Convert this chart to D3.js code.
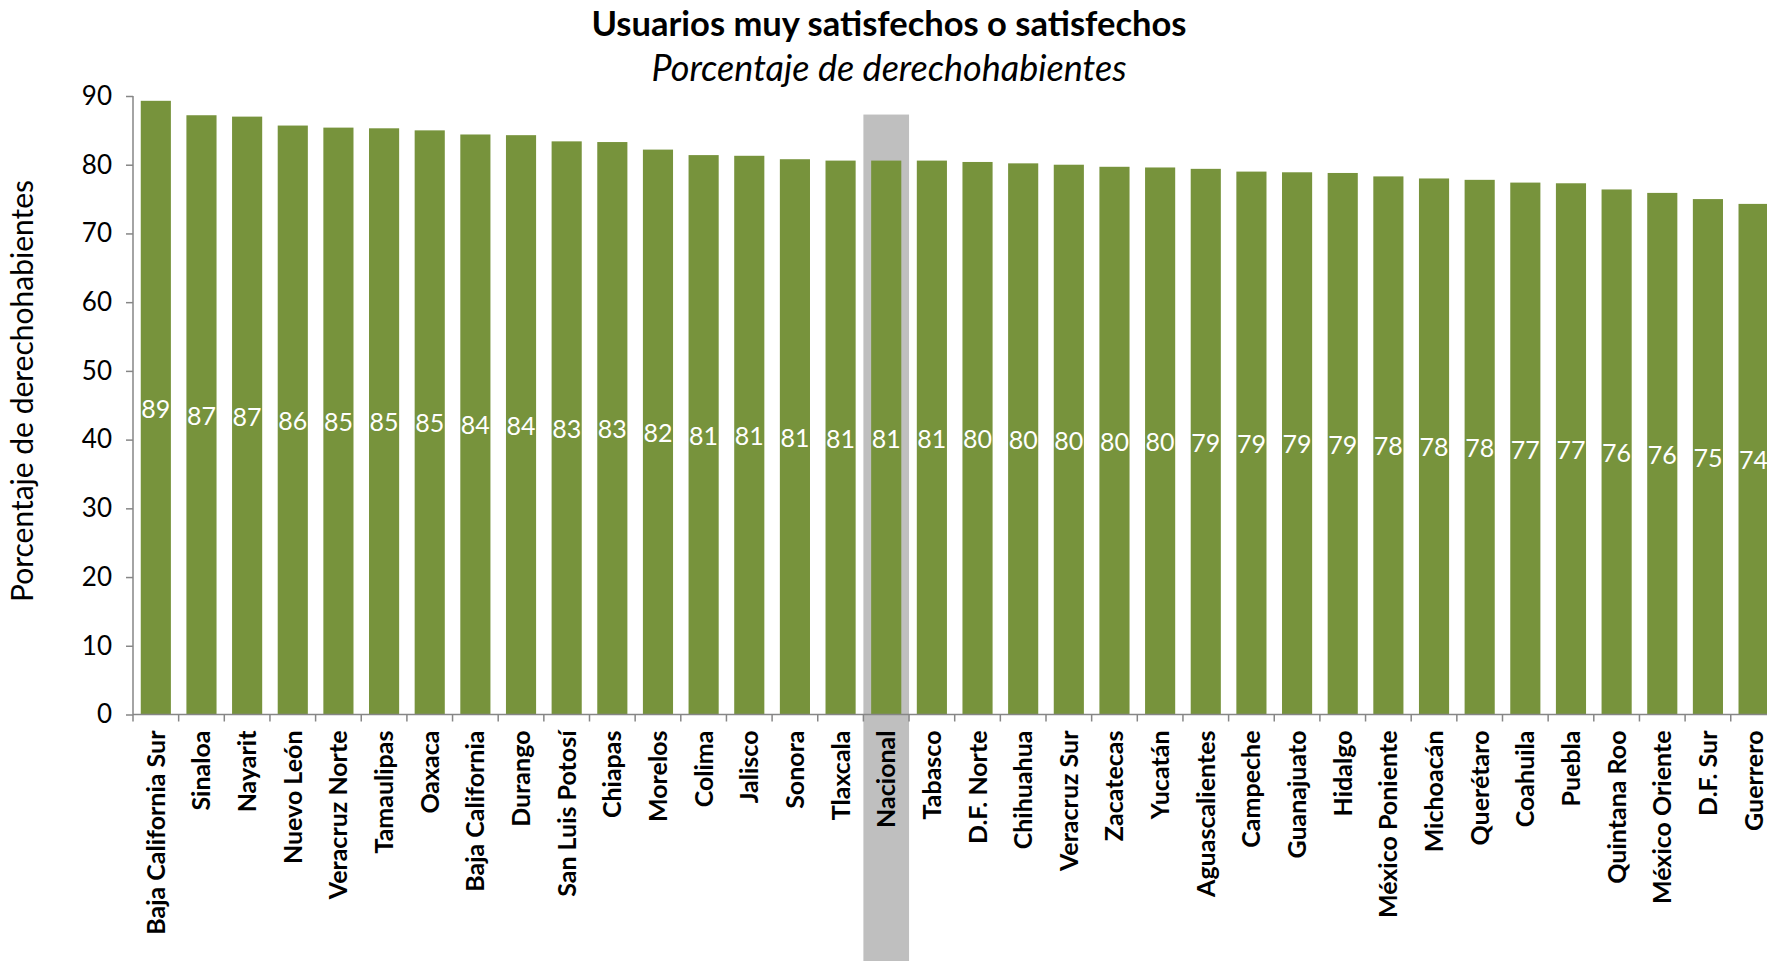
<!DOCTYPE html>
<html>
<head>
<meta charset="utf-8">
<script src="https://cdn.jsdelivr.net/npm/d3@7"></script>
<style>
  html, body { margin: 0; padding: 0; background: #ffffff; }
  svg { display: block; }
</style>
</head>
<body>
<svg id="chart"></svg>
<script>
// ── Data ─────────────────────────────────────────────
const categories = [
  'Baja California Sur', 'Sinaloa', 'Nayarit', 'Nuevo León', 'Veracruz Norte',
  'Tamaulipas', 'Oaxaca', 'Baja California', 'Durango', 'San Luis Potosí',
  'Chiapas', 'Morelos', 'Colima', 'Jalisco', 'Sonora', 'Tlaxcala', 'Nacional',
  'Tabasco', 'D.F. Norte', 'Chihuahua', 'Veracruz Sur', 'Zacatecas', 'Yucatán',
  'Aguascalientes', 'Campeche', 'Guanajuato', 'Hidalgo', 'México Poniente',
  'Michoacán', 'Querétaro', 'Coahuila', 'Puebla', 'Quintana Roo',
  'México Oriente', 'D.F. Sur', 'Guerrero'
];
const values = [
  89.3, 87.2, 87.0, 85.7, 85.4, 85.3, 85.0, 84.4, 84.3, 83.4,
  83.3, 82.2, 81.4, 81.3, 80.8, 80.6, 80.6, 80.6, 80.4, 80.2,
  80.0, 79.7, 79.6, 79.4, 79.0, 78.9, 78.8, 78.3, 78.0, 77.8,
  77.4, 77.3, 76.4, 75.9, 75.0, 74.3
];
const yTicks = [0, 10, 20, 30, 40, 50, 60, 70, 80, 90];
const highlight = 'Nacional';
const highlightTop = 87.3;

const title    = 'Usuarios muy satisfechos o satisfechos';
const subtitle = 'Porcentaje de derechohabientes';
const yTitle   = 'Porcentaje de derechohabientes';

// ── Layout ───────────────────────────────────────────
const W = 1767, H = 961;
const FONT = 'Lato, "Open Sans", sans-serif';
const margin = { left: 133, top: 96, bottom: H - 714.5 };
const bandW = 45.65;

const svg = d3.select('#chart').attr('width', W).attr('height', H);

const x = d3.scaleBand()
  .domain(categories)
  .range([margin.left, margin.left + bandW * categories.length])
  .paddingInner(0.34)
  .paddingOuter(0.17);

const y = d3.scaleLinear()
  .domain([0, 90])
  .range([H - margin.bottom, margin.top]);

// ── Highlight band (Nacional) ────────────────────────
const step = x.step();
svg.append('rect')
  .attr('x', x(highlight) - (step - x.bandwidth()) / 2)
  .attr('y', y(highlightTop))
  .attr('width', step)
  .attr('height', H - y(highlightTop))
  .attr('fill', '#bfbfbf');

// ── Bars ─────────────────────────────────────────────
svg.append('g')
  .selectAll('rect')
  .data(categories)
  .join('rect')
    .attr('x', d => x(d))
    .attr('y', (d, i) => y(values[i]))
    .attr('width', x.bandwidth())
    .attr('height', (d, i) => y(0) - y(values[i]))
    .attr('fill', '#77933c');

// Value labels, centred inside bars
svg.append('g')
  .selectAll('text')
  .data(categories)
  .join('text')
    .attr('x', d => x(d) + x.bandwidth() / 2)
    .attr('y', (d, i) => (y(values[i]) + y(0)) / 2)
    .attr('dy', '0.4em')
    .attr('text-anchor', 'middle')
    .attr('fill', '#ffffff')
    .attr('font-size', 25)
    .attr('font-family', FONT)
    .text((d, i) => Math.round(values[i]));

// ── Axes ─────────────────────────────────────────────
const yAxis = svg.append('g')
  .attr('transform', `translate(${margin.left},0)`)
  .call(d3.axisLeft(y).tickValues(yTicks).tickSize(7).tickPadding(14));

const xAxis = svg.append('g')
  .attr('transform', `translate(0,${y(0)})`)
  .call(d3.axisBottom(x).tickSize(0).tickFormat(''));

// x tick marks sit between bands (Excel style)
xAxis.selectAll('.tick').remove();
xAxis.selectAll('line.sep')
  .data(d3.range(categories.length + 1))
  .join('line')
    .attr('class', 'sep')
    .attr('x1', i => margin.left + i * step)
    .attr('x2', i => margin.left + i * step)
    .attr('y1', 0)
    .attr('y2', 7);

[yAxis, xAxis].forEach(g => {
  g.select('.domain').attr('stroke', '#868686').attr('stroke-width', 1.5);
  g.selectAll('line').attr('stroke', '#868686').attr('stroke-width', 1.5);
});
xAxis.select('.domain').attr('d', `M${margin.left},0H${W + 20}`);
yAxis.select('.domain').attr('d', `M0,${y(90)}V${y(0)}`);

yAxis.selectAll('text')
  .attr('font-size', 26)
  .attr('font-family', FONT)
  .attr('fill', '#000000');

// Category labels, rotated and bold
svg.append('g')
  .selectAll('text')
  .data(categories)
  .join('text')
    .attr('transform', d => `translate(${x(d) + x.bandwidth() / 2},${y(0) + 16}) rotate(-90)`)
    .attr('dy', '0.36em')
    .attr('text-anchor', 'end')
    .attr('font-size', 25)
    .attr('font-weight', 'bold')
    .attr('font-family', FONT)
    .attr('fill', '#000000')
    .text(d => d);

// ── Titles ───────────────────────────────────────────
svg.append('text')
  .attr('x', 889)
  .attr('y', 36)
  .attr('text-anchor', 'middle')
  .attr('font-size', 34.5)
  .attr('font-weight', 'bold')
  .attr('font-family', FONT)
  .text(title);

svg.append('text')
  .attr('x', 889)
  .attr('y', 81)
  .attr('text-anchor', 'middle')
  .attr('font-size', 36)
  .attr('font-style', 'italic')
  .attr('font-family', FONT)
  .text(subtitle);

svg.append('text')
  .attr('transform', `translate(33,391) rotate(-90)`)
  .attr('text-anchor', 'middle')
  .attr('font-size', 30)
  .attr('font-family', FONT)
  .text(yTitle);
</script>
</body>
</html>
